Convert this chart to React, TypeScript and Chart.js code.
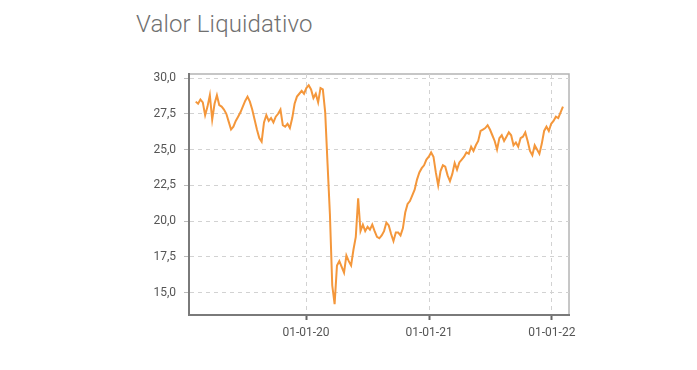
import React, { useEffect, useRef } from "react";
import { Chart, registerables } from "chart.js";

Chart.register(...registerables);

const chartTitle = "Valor Liquidativo";
const startDate = "2019-02-07";
const stepDays = 7;
const navValues = [
  28.35, 28.2, 28.5, 28.3, 27.4, 28.0, 28.8, 27.1, 28.2, 28.8,
  28.1, 28.0, 27.8, 27.5, 26.95, 26.4, 26.6, 27.0, 27.3, 27.6,
  28.0, 28.4, 28.7, 28.35, 27.8, 27.1, 26.4, 25.8, 25.55, 26.9,
  27.4, 27.0, 27.2, 26.9, 27.3, 27.5, 27.8, 26.7, 26.6, 26.8,
  26.5, 27.2, 28.2, 28.7, 28.9, 29.1, 28.9, 29.3, 29.5, 29.2,
  28.6, 28.9, 28.3, 29.3, 29.2, 27.6, 24.0, 20.5, 15.5, 14.2,
  16.9, 17.2, 16.8, 16.4, 17.6, 17.2, 16.9, 18.0, 18.9, 21.6,
  19.3, 19.75, 19.3, 19.6, 19.4, 19.75, 19.3, 18.9, 18.8, 19.0,
  19.3, 19.9, 19.7, 19.1, 18.6, 19.2, 19.2, 19.0, 19.5, 20.6,
  21.2, 21.4, 21.8, 22.2, 22.9, 23.4, 23.7, 23.9, 24.3, 24.5,
  24.8, 24.5, 23.4, 22.5, 23.5, 23.9, 23.8, 23.2, 22.8, 23.3,
  24.05, 23.6, 24.1, 24.3, 24.5, 24.8, 24.7, 25.2, 24.9, 25.3,
  25.6, 26.3, 26.4, 26.5, 26.7, 26.4, 26.0, 25.6, 25.0, 25.8,
  26.0, 25.6, 25.9, 26.2, 26.0, 25.3, 25.5, 25.2, 25.8, 25.9,
  26.2, 25.6, 24.9, 24.6, 25.3, 25.0, 24.7, 25.4, 26.3, 26.6,
  26.3, 26.8, 27.0, 27.3, 27.2, 27.6, 28.0,
];
const yTickValues = [15, 17.5, 20, 22.5, 25, 27.5, 30];
const xTickDates = ["2020-01-01", "2021-01-01", "2022-01-01"];
const xRangeDates = ["2019-01-18", "2022-02-21"];
const yRange = [13.44, 30.28];

const DAY = 86400000;
const toMs = (s: string) => Date.parse(s + "T00:00:00Z");
const pad2 = (n: number) => String(n).padStart(2, "0");
const fmtDate = (ms: number) => {
  const d = new Date(ms);
  return `${pad2(d.getUTCDate())}-${pad2(d.getUTCMonth() + 1)}-${pad2(d.getUTCFullYear() % 100)}`;
};

const framePlugin = {
  id: "frame",
  beforeDraw(chart: any) {
    const { ctx, chartArea: a } = chart;
    ctx.save();
    ctx.strokeStyle = "#b4b4b4";
    ctx.lineWidth = 1.5;
    ctx.strokeRect(a.left, a.top, a.right - a.left, a.bottom - a.top);
    ctx.restore();
  },
};

export default function App() {
  const ref = useRef<HTMLCanvasElement | null>(null);

  useEffect(() => {
    if (!ref.current) return;
    const start = toMs(startDate);
    const points = navValues.map((v, i) => ({ x: start + i * stepDays * DAY, y: v }));
    const tickFont = { family: "Roboto", size: 12 };
    const chart = new Chart(ref.current, {
      type: "line",
      data: {
        datasets: [
          {
            data: points,
            borderColor: "#f4973b",
            borderWidth: 2,
            pointRadius: 0,
            tension: 0,
            fill: false,
          },
        ],
      },
      options: {
        animation: false,
        responsive: false,
        maintainAspectRatio: false,
        layout: { padding: { left: 139, right: 128, top: 74, bottom: 15 } },
        plugins: { legend: { display: false }, tooltip: { enabled: false }, title: { display: false } },
        scales: {
          x: {
            type: "linear",
            min: toMs(xRangeDates[0]),
            max: toMs(xRangeDates[1]),
            afterBuildTicks: (s: any) => {
              s.ticks = xTickDates.map((d) => ({ value: toMs(d) }));
            },
            afterFit: (s: any) => {
              s.height = 40;
            },
            ticks: {
              callback: (v: any) => fmtDate(Number(v)),
              font: tickFont,
              color: "#555",
              padding: 6,
              maxRotation: 0,
              autoSkip: false,
            },
            grid: {
              color: "#d2d2d2",
              lineWidth: 1,
              tickLength: 5,
              tickColor: "#666",
              tickWidth: 2,
              tickBorderDash: [],
            },
            border: { display: true, color: "#7a7a7a", width: 2, dash: [4, 4] },
          },
          y: {
            type: "linear",
            min: yRange[0],
            max: yRange[1],
            afterBuildTicks: (s: any) => {
              s.ticks = yTickValues.map((v) => ({ value: v }));
            },
            afterFit: (s: any) => {
              s.width = 50;
            },
            ticks: {
              callback: (v: any) => Number(v).toFixed(1).replace(".", ","),
              font: tickFont,
              color: "#555",
              padding: 8,
            },
            grid: {
              color: "#d2d2d2",
              lineWidth: 1,
              tickLength: 5,
              tickColor: "#bbb",
              tickBorderDash: [],
            },
            border: { display: true, color: "#7a7a7a", width: 2, dash: [4, 4] },
          },
        },
      },
      plugins: [framePlugin],
    } as any);
    return () => chart.destroy();
  }, []);

  return (
    <div style={{ position: "fixed", left: 0, top: 0, width: 697, height: 370, background: "#fff" }}>
      <div
        style={{
          position: "absolute",
          left: 136,
          top: 10,
          fontFamily: "Roboto, sans-serif",
          fontWeight: 300,
          fontSize: 24,
          color: "#707070",
          letterSpacing: 0.15,
          whiteSpace: "nowrap",
        }}
      >
        {chartTitle}
      </div>
      <canvas ref={ref} width={697} height={370} style={{ position: "absolute", left: 0, top: 0 }} />
    </div>
  );
}
